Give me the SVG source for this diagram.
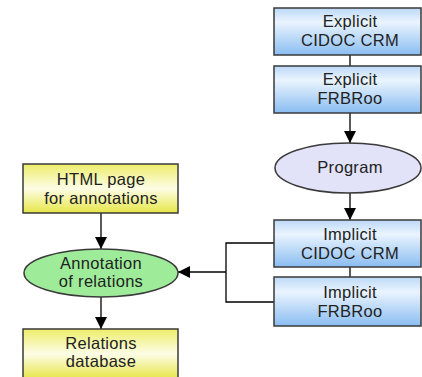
<svg xmlns="http://www.w3.org/2000/svg" width="422" height="377" viewBox="0 0 422 377">
<defs>
<linearGradient id="gBlue" x1="0" y1="0" x2="0" y2="1">
<stop offset="0" stop-color="#bcd9f7"/>
<stop offset="0.3" stop-color="#eaf4fe"/>
<stop offset="1" stop-color="#8abdf2"/>
</linearGradient>
<linearGradient id="gYellow" x1="0" y1="0" x2="0" y2="1">
<stop offset="0" stop-color="#eded6a"/>
<stop offset="0.5" stop-color="#fdfde6"/>
<stop offset="1" stop-color="#e6e648"/>
</linearGradient>
<marker id="arr" markerWidth="12" markerHeight="12" viewBox="0 0 12 12" refX="12" refY="6" orient="auto" markerUnits="userSpaceOnUse">
<path d="M0,0 L12,6 L0,12 Z" fill="#000"/>
</marker>
</defs>
<style>
.box{stroke:#3a3a3a;stroke-width:1.5}
.blue{fill:url(#gBlue)}
.yellow{fill:url(#gYellow)}
.ell{stroke:#3a3a3a;stroke-width:1.5}
text{font-family:"Liberation Sans",Arial,sans-serif;font-size:16.5px;letter-spacing:0.3px;fill:#222;text-anchor:middle}
.conn{fill:none;stroke:#000;stroke-width:1.3}
</style>
<g id="connectors">
<line class="conn" x1="350" y1="55" x2="350" y2="66"/>
<line class="conn" x1="350" y1="113" x2="350" y2="143" marker-end="url(#arr)"/>
<line class="conn" x1="350" y1="193" x2="350" y2="220" marker-end="url(#arr)"/>
<line class="conn" x1="350" y1="267" x2="350" y2="277"/>
<polyline class="conn" points="274,243 226,243 226,302 274,302"/>
<line class="conn" x1="226" y1="272" x2="178" y2="272" marker-end="url(#arr)"/>
<line class="conn" x1="101" y1="213" x2="101" y2="249" marker-end="url(#arr)"/>
<line class="conn" x1="101" y1="297" x2="101" y2="329" marker-end="url(#arr)"/>
</g>
<g id="explicit-cidoc">
<rect class="box blue" x="274" y="8" width="147" height="47"/>
<text x="350" y="27">Explicit</text>
<text x="350" y="46">CIDOC CRM</text>
</g>
<g id="explicit-frbroo">
<rect class="box blue" x="274" y="66" width="147" height="47"/>
<text x="350" y="85">Explicit</text>
<text x="350" y="104">FRBRoo</text>
</g>
<g id="program">
<ellipse class="ell" cx="348" cy="168" rx="73" ry="25" fill="#e2e2f8"/>
<text x="350" y="173">Program</text>
</g>
<g id="implicit-cidoc">
<rect class="box blue" x="274" y="220" width="147" height="47"/>
<text x="350" y="239.5">Implicit</text>
<text x="350" y="258.5">CIDOC CRM</text>
</g>
<g id="implicit-frbroo">
<rect class="box blue" x="274" y="277" width="147" height="49"/>
<text x="350" y="297.5">Implicit</text>
<text x="350" y="316.5">FRBRoo</text>
</g>
<g id="html-page">
<rect class="box yellow" x="23" y="164" width="155" height="49"/>
<text x="101" y="185">HTML page</text>
<text x="101" y="204">for annotations</text>
</g>
<g id="annotation">
<ellipse class="ell" cx="101" cy="273" rx="77" ry="24" fill="#9eec9a"/>
<text x="101" y="268.5">Annotation</text>
<text x="101" y="287">of relations</text>
</g>
<g id="relations-db">
<rect class="box yellow" x="23" y="329" width="155" height="50"/>
<text x="101" y="348.5">Relations</text>
<text x="101" y="367">database</text>
</g>
</svg>
